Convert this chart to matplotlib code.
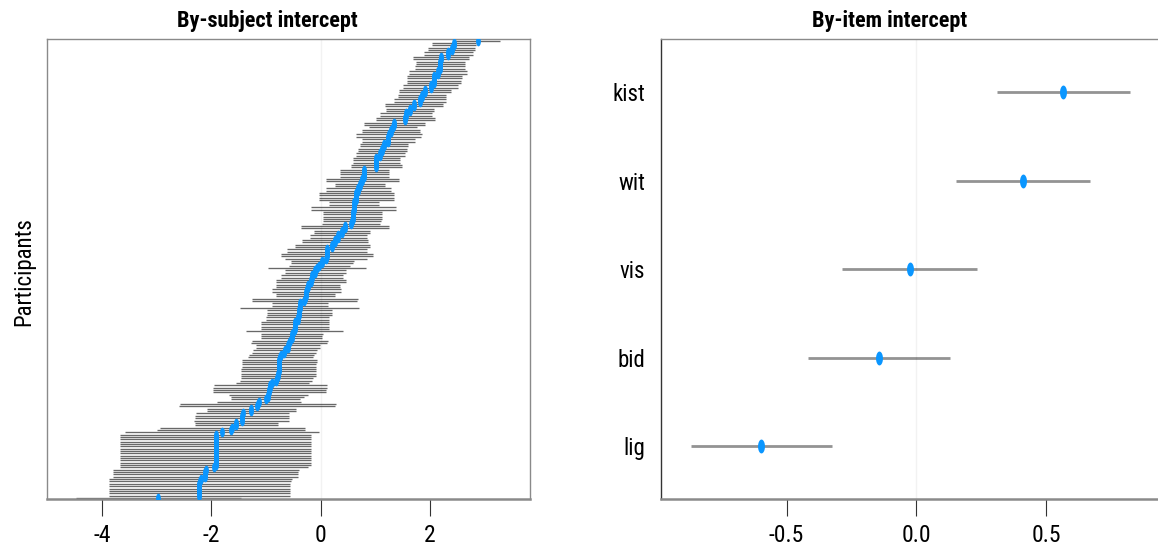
import numpy as np
import matplotlib
matplotlib.use("Agg")
import matplotlib.pyplot as plt
from matplotlib import font_manager
from matplotlib.path import Path

# pick a narrow font if one is installed
available = {f.name for f in font_manager.fontManager.ttflist}
FONT = "DejaVu Sans"
for cand in ["Liberation Sans Narrow", "Roboto Condensed", "Open Sans Condensed", "Roboto"]:
    if cand in available:
        FONT = cand
        break
plt.rcParams["font.family"] = [FONT, "DejaVu Sans"]
plt.rcParams["axes.unicode_minus"] = False

# By-subject random intercepts (sorted), with half-width of the interval
subj_mean = [
    -2.97, -2.22, -2.22, -2.22, -2.22, -2.22, -2.22, -2.21, -2.20, -2.11,
    -2.11, -2.11, -2.10, -1.95, -1.92, -1.92, -1.92, -1.92, -1.92, -1.92,
    -1.92, -1.92, -1.92, -1.92, -1.92, -1.92, -1.92, -1.92, -1.81, -1.64,
    -1.62, -1.55, -1.55, -1.45, -1.44, -1.44, -1.43, -1.27, -1.27, -1.16,
    -1.15, -1.13, -1.01, -0.97, -0.96, -0.94, -0.94, -0.93, -0.92, -0.885,
    -0.82, -0.80, -0.78, -0.78, -0.77, -0.77, -0.765, -0.765, -0.76, -0.76,
    -0.74, -0.72, -0.665, -0.66, -0.60, -0.60, -0.575, -0.57, -0.535, -0.535,
    -0.53, -0.485, -0.475, -0.475, -0.47, -0.47, -0.42, -0.42, -0.39, -0.39,
    -0.39, -0.385, -0.38, -0.38, -0.30, -0.29, -0.275, -0.275, -0.265, -0.26,
    -0.235, -0.23, -0.175, -0.175, -0.165, -0.16, -0.10, -0.10, -0.07, -0.025,
    0.02, 0.03, 0.10, 0.11, 0.11, 0.12, 0.12, 0.215, 0.215, 0.265,
    0.265, 0.325, 0.325, 0.385, 0.385, 0.44, 0.44, 0.56, 0.58, 0.59,
    0.59, 0.59, 0.59, 0.60, 0.60, 0.615, 0.615, 0.65, 0.65, 0.65,
    0.65, 0.69, 0.69, 0.72, 0.72, 0.76, 0.76, 0.80, 0.80, 0.80,
    0.80, 1.02, 1.02, 1.02, 1.02, 1.02, 1.09, 1.09, 1.125, 1.13,
    1.155, 1.155, 1.24, 1.24, 1.24, 1.25, 1.285, 1.285, 1.32, 1.345,
    1.345, 1.55, 1.55, 1.56, 1.56, 1.635, 1.635, 1.705, 1.705, 1.82,
    1.82, 1.86, 1.86, 1.905, 1.905, 2.015, 2.015, 2.065, 2.065, 2.08,
    2.08, 2.145, 2.145, 2.18, 2.18, 2.19, 2.19, 2.205, 2.205, 2.335,
    2.335, 2.395, 2.395, 2.44, 2.44, 2.87,
]
subj_halfwidth = [
    1.51, 1.66, 1.66, 1.66, 1.66, 1.66, 1.66, 1.66, 1.67, 1.70,
    1.70, 1.70, 1.70, 1.72, 1.745, 1.745, 1.745, 1.745, 1.745, 1.745,
    1.745, 1.745, 1.745, 1.745, 1.745, 1.745, 1.745, 1.745, 1.775, 1.36,
    1.33, 0.76, 0.76, 0.865, 0.865, 0.855, 0.855, 0.81, 0.81, 1.43,
    1.43, 0.76, 0.635, 0.67, 0.72, 1.04, 1.04, 1.04, 1.04, 0.675,
    0.655, 0.655, 0.685, 0.685, 0.685, 0.685, 0.685, 0.685, 0.685, 0.685,
    0.60, 0.60, 0.585, 0.585, 0.58, 0.58, 0.695, 0.695, 0.565, 0.565,
    0.57, 0.885, 0.625, 0.625, 0.625, 0.625, 0.58, 0.58, 0.60, 0.60,
    0.60, 1.085, 0.52, 0.52, 0.965, 0.97, 0.535, 0.535, 0.635, 0.635,
    0.585, 0.585, 0.635, 0.635, 0.565, 0.565, 0.56, 0.56, 0.89, 0.555,
    0.57, 0.57, 0.75, 0.84, 0.84, 0.735, 0.735, 0.695, 0.695, 0.605,
    0.605, 0.525, 0.525, 0.515, 0.515, 0.81, 0.81, 0.53, 0.53, 0.54,
    0.54, 0.54, 0.54, 0.77, 0.77, 0.455, 0.455, 0.69, 0.69, 0.69,
    0.69, 0.60, 0.60, 0.45, 0.45, 0.67, 0.67, 0.45, 0.45, 0.45,
    0.45, 0.46, 0.46, 0.435, 0.435, 0.435, 0.45, 0.45, 0.445, 0.445,
    0.445, 0.445, 0.48, 0.48, 0.60, 0.60, 0.525, 0.525, 0.44, 0.555,
    0.555, 0.54, 0.54, 0.47, 0.47, 0.435, 0.435, 0.525, 0.525, 0.48,
    0.48, 0.44, 0.44, 0.475, 0.475, 0.505, 0.505, 0.495, 0.495, 0.50,
    0.50, 0.525, 0.525, 0.46, 0.46, 0.45, 0.45, 0.515, 0.515, 0.445,
    0.445, 0.425, 0.425, 0.41, 0.41, 0.42,
]

# By-item random intercepts, bottom to top
items = ["lig", "bid", "vis", "wit", "kist"]
item_mean = [-0.598, -0.144, -0.026, 0.412, 0.566]
item_lo = [-0.868, -0.416, -0.288, 0.154, 0.312]
item_hi = [-0.324, 0.129, 0.236, 0.671, 0.824]

BLUE = "#0a96ff"
t = np.linspace(0, 2 * np.pi, 41)
ellipse = Path(np.column_stack([0.5 * np.cos(t), np.sin(t)]), closed=True)

fig = plt.figure(figsize=(11.58, 5.55), dpi=100)
ax1 = fig.add_axes([47 / 1158, 1 - 499.3 / 555, 483 / 1158, 460 / 555])
ax2 = fig.add_axes([660.5 / 1158, 1 - 499.3 / 555, 510 / 1158, 460 / 555])

# left panel
m = np.array(subj_mean)
hw = np.array(subj_halfwidth)
rows = np.arange(len(m))
ax1.hlines(rows, m - hw, m + hw, color="#686868", lw=0.95, zorder=2)
ax1.axvline(0, color="black", alpha=0.05, lw=1, zorder=2.5)
ax1.plot(m, rows, ls="none", marker=ellipse, ms=7, color=BLUE, mec="none", zorder=3)
ax1.set_xlim(-5.01, 3.83)
ax1.set_ylim(-0.6, len(m) - 0.4)
ax1.set_xticks([-4, -2, 0, 2])
ax1.set_yticks([])

# right panel
ypos = np.arange(1, len(items) + 1)
ax2.hlines(ypos, item_lo, item_hi, color="#939393", lw=2.0, zorder=2)
ax2.axvline(0, color="black", alpha=0.05, lw=1, zorder=2.5)
ax2.plot(item_mean, ypos, ls="none", marker=ellipse, ms=10, color=BLUE, mec="none", zorder=3)
ax2.set_xlim(-0.986, 0.98)
ax2.set_ylim(0.4, len(items) + 0.6)
ax2.set_xticks([-0.5, 0.0, 0.5])
ax2.set_xticklabels(["-0.5", "0.0", "0.5"])
ax2.set_yticks(ypos)
ax2.set_yticklabels(items)
ax2.tick_params(axis="y", length=0, pad=11, labelsize=16.5)

for ax in (ax1, ax2):
    for side in ("left", "top", "right"):
        ax.spines[side].set_color("#8a8a8a")
        ax.spines[side].set_linewidth(1.0)
    ax.spines["bottom"].set_color("#8a8a8a")
    ax.spines["bottom"].set_linewidth(1.8)
    ax.tick_params(axis="x", length=12, width=0.8, color="#333333", pad=6, labelsize=17)
ax2.spines["left"].set_color("#333333")

fig.text(267 / 1158, 1 - 27 / 555, "By-subject intercept", ha="center", va="baseline",
         fontsize=16, fontweight="bold")
fig.text(890 / 1158, 1 - 27 / 555, "By-item intercept", ha="center", va="baseline",
         fontsize=16, fontweight="bold")
fig.text(24 / 1158, 1 - 272 / 555, "Participants", ha="center", va="center",
         rotation=90, fontsize=16.5)

fig.savefig("out.png", dpi=100)
